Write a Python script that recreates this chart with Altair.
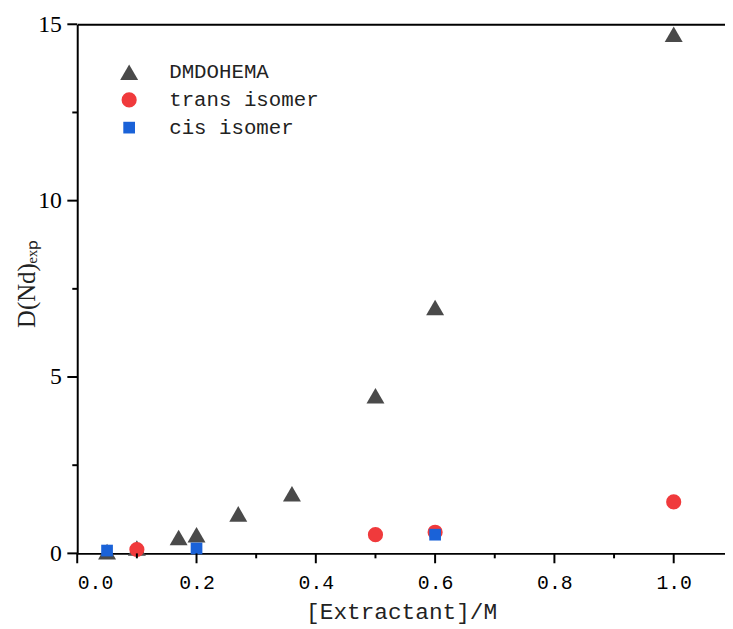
import altair as alt
import pandas as pd

# ---- data ----
dmdo_x = [0.05, 0.10, 0.17, 0.20, 0.27, 0.36, 0.50, 0.60, 1.00]
dmdo_y = [0.05, 0.15, 0.45, 0.53, 1.12, 1.69, 4.47, 6.97, 14.72]
trans_x = [0.10, 0.50, 0.60, 1.00]
trans_y = [0.11, 0.53, 0.60, 1.46]
cis_x = [0.05, 0.20, 0.60]
cis_y = [0.08, 0.14, 0.53]

series = ["DMDOHEMA", "trans isomer", "cis isomer"]
colors = ["#4a4a4a", "#f03a3c", "#1a62d8"]
shapes = ["triangle-up", "circle", "square"]
sizes = [330, 140, 125]

x_major = [0.0, 0.2, 0.4, 0.6, 0.8, 1.0]
x_minor = [0.1, 0.3, 0.5, 0.7, 0.9]
y_major = [0, 5, 10, 15]
y_minor = [2.5, 7.5, 12.5]

rows = []
for name, xs, ys in [(series[0], dmdo_x, dmdo_y), (series[1], trans_x, trans_y), (series[2], cis_x, cis_y)]:
    for xv, yv in zip(xs, ys):
        rows.append({"x": xv, "y": yv, "series": name})
df = pd.DataFrame(rows)

W, H = 655, 535
x_scale = alt.Scale(domain=[0, 1.086], nice=False, zero=False)
y_scale = alt.Scale(domain=[0, 15], nice=False)

legend = alt.Legend(title=None, orient="none", legendX=42, legendY=38,
                    labelFont="Liberation Mono", labelFontSize=21,
                    labelOffset=30, rowPadding=6, symbolStrokeWidth=0)

points = alt.Chart(df).mark_point(filled=True, opacity=1).encode(
    x=alt.X("x:Q", scale=x_scale,
            axis=alt.Axis(values=x_major, format=".1f", title="[Extractant]/M", orient="bottom",
                          ticks=False, labelFont="Liberation Mono", labelFontSize=20, labelPadding=20,
                          titleFont="Liberation Mono", titleFontSize=23, titlePadding=8)),
    y=alt.Y("y:Q", scale=y_scale,
            axis=alt.Axis(values=y_major, title="D(Nd)ₑₓₚ", orient="left",
                          ticks=False, labelFont="Liberation Serif", labelFontSize=24, labelPadding=16,
                          titleFont="Liberation Serif", titleFontSize=25,
                          titleX=-38, titleY=262, titleAngle=270, titleBaseline="bottom")),
    color=alt.Color("series:N", scale=alt.Scale(domain=series, range=colors), legend=legend),
    shape=alt.Shape("series:N", scale=alt.Scale(domain=series, range=shapes), legend=legend),
    size=alt.Size("series:N", scale=alt.Scale(domain=series, range=sizes), legend=legend),
)

# tick marks drawn through the shared scales
def x_ticks(vals, length):
    return alt.Chart(pd.DataFrame({"v": vals})).mark_rule(color="black", strokeWidth=2).encode(
        x=alt.X("v:Q", scale=x_scale, axis=None),
        y=alt.value(H), y2=alt.value(H + length))

def y_ticks(vals, length):
    return alt.Chart(pd.DataFrame({"v": vals})).mark_rule(color="black", strokeWidth=2).encode(
        y=alt.Y("v:Q", scale=y_scale, axis=None),
        x=alt.value(0), x2=alt.value(-length))

top_axis = alt.Chart(df).mark_point(opacity=0).encode(
    x=alt.X("x:Q", scale=x_scale,
            axis=alt.Axis(orient="top", labels=False, ticks=False, title=None, domain=True)),
    y=alt.Y("y:Q", scale=y_scale, axis=None),
)

chart = alt.layer(
    points, x_ticks(x_major, 10), x_ticks(x_minor, 5), y_ticks(y_major, 10), y_ticks(y_minor, 5), top_axis
).resolve_axis(x="independent", y="independent").properties(
    width=W, height=H,
    autosize=alt.AutoSizeParams(type="none"),
    padding={"left": 70, "top": 13, "right": 0, "bottom": 73},
).configure_view(stroke=None).configure_axis(
    grid=False, domainColor="black", domainWidth=2,
    labelColor="black", titleColor="#222222", titleFontWeight="normal",
).configure_legend(labelColor="#222222")

chart.save("out.html", embed_options={"renderer": "svg", "actions": False})
